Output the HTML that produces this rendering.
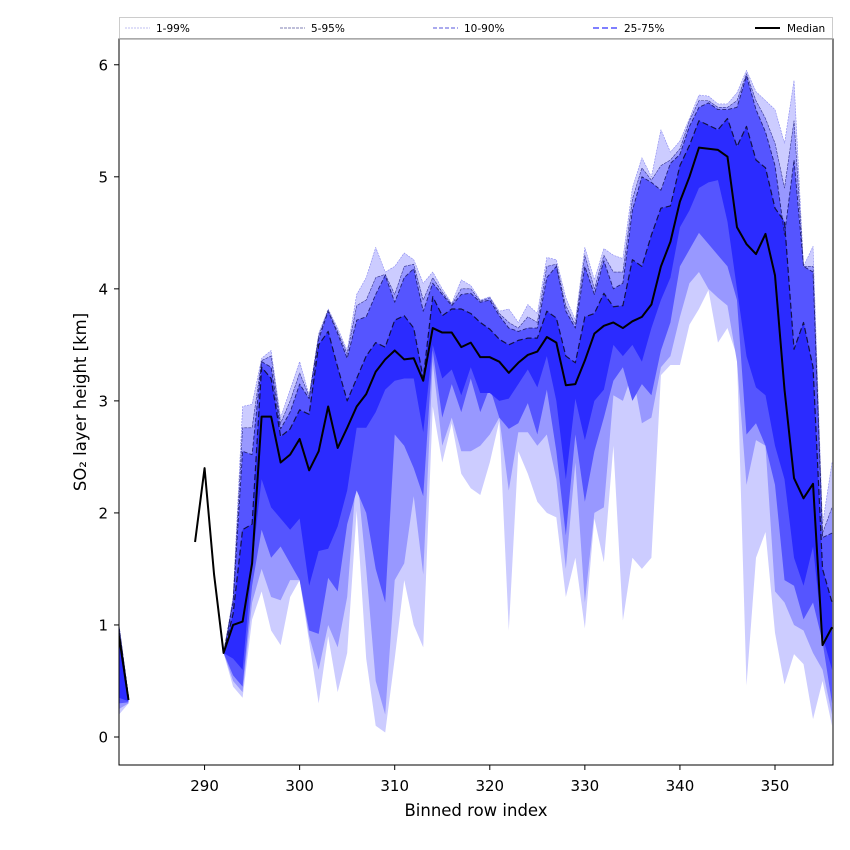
<!DOCTYPE html>
<html><head><meta charset="utf-8"><style>
body{margin:0;background:#fff;}
svg{display:block;font-family:"DejaVu Sans","Liberation Sans",sans-serif;}
</style></head><body>
<svg id="chart" width="850" height="850"></svg>
<script>
const rows=[281,282,283,284,285,286,287,288,289,290,291,292,293,294,295,296,297,298,299,300,301,302,303,304,305,306,307,308,309,310,311,312,313,314,315,316,317,318,319,320,321,322,323,324,325,326,327,328,329,330,331,332,333,334,335,336,337,338,339,340,341,342,343,344,345,346,347,348,349,350,351,352,353,354,355,356];
const N=null;
const median=[0.9,0.33,N,N,N,N,N,N,1.74,2.4,1.45,0.75,1.0,1.03,1.55,2.86,2.86,2.45,2.52,2.66,2.38,2.55,2.95,2.58,2.76,2.95,3.06,3.26,3.37,3.45,3.37,3.38,3.18,3.65,3.61,3.61,3.48,3.52,3.39,3.39,3.35,3.25,3.34,3.41,3.44,3.57,3.52,3.14,3.15,3.36,3.6,3.67,3.7,3.65,3.71,3.75,3.86,4.2,4.42,4.78,5.0,5.26,5.25,5.24,5.18,4.55,4.4,4.31,4.49,4.12,3.1,2.31,2.13,2.26,0.82,0.98];
const q75=[0.95,0.35,N,N,N,N,N,N,N,N,N,0.75,1.1,1.85,1.9,3.3,3.2,2.68,2.75,2.92,2.88,3.5,3.62,3.3,3.0,3.2,3.4,3.52,3.48,3.72,3.76,3.65,3.2,3.93,3.76,3.82,3.82,3.78,3.7,3.64,3.55,3.5,3.54,3.56,3.56,3.8,3.74,3.4,3.34,3.75,3.78,3.96,3.84,3.85,4.26,4.2,4.48,4.72,4.74,5.1,5.28,5.5,5.46,5.42,5.52,5.27,5.45,5.15,5.08,4.72,4.6,3.46,3.7,3.3,1.5,1.2];
const q90=[0.98,0.35,N,N,N,N,N,N,N,N,N,0.75,1.2,2.55,2.52,3.35,3.3,2.75,2.9,3.15,3.02,3.55,3.8,3.6,3.38,3.72,3.75,3.95,4.12,3.88,4.1,4.18,3.8,4.05,3.95,3.85,3.95,3.96,3.88,3.9,3.76,3.65,3.62,3.65,3.65,4.1,4.2,3.8,3.65,4.2,3.95,4.25,4.0,4.05,4.7,5.0,4.95,4.88,5.12,5.2,5.45,5.62,5.66,5.6,5.6,5.62,5.9,5.6,5.4,5.1,4.48,5.15,4.2,4.15,1.78,1.82];
const q95=[1.0,0.36,N,N,N,N,N,N,N,N,N,0.75,1.22,2.76,2.76,3.36,3.4,2.8,3.0,3.25,3.04,3.58,3.81,3.62,3.42,3.85,3.9,4.1,4.13,3.95,4.2,4.22,3.9,4.1,3.97,3.86,4.0,4.0,3.89,3.92,3.78,3.7,3.65,3.75,3.7,4.2,4.22,3.85,3.68,4.3,4.0,4.3,4.15,4.15,4.8,5.08,4.97,5.1,5.15,5.25,5.5,5.68,5.68,5.62,5.62,5.68,5.92,5.68,5.52,5.3,4.9,5.5,4.2,4.2,1.82,2.05];
const q99=[1.0,0.36,N,N,N,N,N,N,N,N,N,0.75,1.25,2.95,2.97,3.38,3.45,2.85,3.1,3.35,3.05,3.6,3.82,3.65,3.45,3.95,4.1,4.37,4.15,4.2,4.32,4.26,4.05,4.15,4.0,3.87,4.08,4.03,3.9,3.93,3.8,3.82,3.7,3.86,3.78,4.28,4.26,3.92,3.72,4.37,4.08,4.36,4.3,4.27,4.9,5.17,5.0,5.42,5.22,5.32,5.52,5.73,5.72,5.65,5.65,5.75,5.95,5.76,5.68,5.6,5.3,5.86,4.2,4.38,1.9,2.45];
const q25=[0.35,0.32,N,N,N,N,N,N,N,N,N,0.75,0.7,0.6,1.55,2.3,2.05,1.95,1.85,1.95,1.35,1.66,1.68,1.88,2.2,2.76,2.76,2.9,3.1,3.18,3.2,3.2,2.72,3.5,3.2,3.28,3.05,3.3,3.07,3.07,3.0,3.02,3.15,3.28,3.12,3.4,3.0,2.3,3.02,2.65,3.0,3.1,3.5,3.4,3.5,3.35,3.65,3.9,4.1,4.55,4.7,4.9,4.95,4.97,4.6,4.0,3.4,3.12,3.05,2.6,2.3,1.6,1.35,1.7,0.9,0.6];
const q10=[0.3,0.31,N,N,N,N,N,N,N,N,N,0.75,0.55,0.45,1.35,1.85,1.6,1.7,1.55,1.4,0.95,0.92,1.42,1.3,1.9,2.2,2.0,1.5,1.2,2.7,2.6,2.4,2.15,3.45,2.85,3.15,2.9,3.2,2.9,3.12,2.85,2.75,2.8,2.98,2.7,3.1,2.55,1.8,2.7,2.1,2.55,2.85,3.18,3.3,3.0,3.15,3.05,3.45,3.7,4.2,4.35,4.5,4.4,4.3,4.2,3.9,2.7,2.8,2.6,2.25,1.4,1.35,1.05,1.2,0.85,0.3];
const q5=[0.25,0.3,N,N,N,N,N,N,N,N,N,0.75,0.5,0.4,1.2,1.5,1.25,1.22,1.4,1.4,0.9,0.6,1.0,0.8,1.25,2.38,1.5,0.5,0.2,1.4,1.55,2.15,1.45,3.35,2.6,2.85,2.55,2.55,2.6,2.7,2.85,2.2,2.72,2.72,2.6,2.7,2.3,1.5,2.45,1.2,2.0,2.05,3.05,3.0,3.25,2.8,2.85,3.3,3.4,3.75,4.05,4.15,4.0,3.92,3.85,3.35,2.25,2.65,2.6,1.3,1.2,1.0,0.95,0.75,0.6,0.2];
const q1=[0.2,0.3,N,N,N,N,N,N,N,N,N,0.75,0.45,0.35,1.05,1.3,0.95,0.82,1.25,1.4,0.85,0.3,0.9,0.4,0.75,2.02,0.7,0.1,0.04,0.7,1.4,1.0,0.8,2.95,2.45,2.8,2.35,2.22,2.16,2.45,2.82,0.95,2.55,2.35,2.1,2.0,1.96,1.25,1.6,0.97,1.95,1.56,2.6,1.04,1.6,1.5,1.6,3.23,3.32,3.32,3.68,3.82,3.99,3.52,3.65,3.4,0.46,1.6,1.83,0.93,0.47,0.74,0.65,0.16,0.5,0.1];
const xTicks=[290,300,310,320,330,340,350];
const yTicks=[0,1,2,3,4,5,6];

const L=119,R=833,T=39,B=765,xMin=281,xMax=356.1,yMin=-0.25,yMax=6.23;
const X=v=>L+(v-xMin)/(xMax-xMin)*(R-L);
const Y=v=>B-(v-yMin)/(yMax-yMin)*(B-T);
const svg=document.getElementById('chart');
const NS='http://www.w3.org/2000/svg';
function mk(tag,attrs,parent){const e=document.createElementNS(NS,tag);for(const k in attrs)e.setAttribute(k,attrs[k]);(parent||svg).appendChild(e);return e;}
const defs=mk('defs',{});const cp=mk('clipPath',{id:'clip'},defs);mk('rect',{x:L,y:T,width:R-L,height:B-T},cp);
const plot=mk('g',{'clip-path':'url(#clip)'});


function segments(a){const s=[];let cur=[];a.forEach((v,i)=>{if(v===null){if(cur.length)s.push(cur);cur=[];}else cur.push(i);});if(cur.length)s.push(cur);return s;}
function band(lo,hi,fill,name){segments(hi).forEach(seg=>{let d='M'+seg.map(i=>X(rows[i])+','+Y(hi[i])).join('L');d+='L'+seg.slice().reverse().map(i=>X(rows[i])+','+Y(lo[i])).join('L')+'Z';const p=mk('path',{d:d,fill:fill,stroke:'none'},plot);});}
function line(a,stroke,w,dash,name){segments(a).forEach(seg=>{const d='M'+seg.map(i=>X(rows[i])+','+Y(a[i])).join('L');const p=mk('path',{d:d,fill:'none',stroke:stroke,'stroke-width':w,'stroke-dasharray':dash,'stroke-linejoin':'round'},plot);});}
band(q1,q99,'#ccccff','band-1-99');
band(q5,q95,'#9898ff','band-5-95');
band(q10,q90,'#5555ff','band-10-90');
band(q25,q75,'#2b2bff','band-25-75');
line(q99,'#8888ee',0.6,'2,1','line-p99');
line(q95,'#33338a',0.6,'3,1','line-p95');
line(q90,'#222277',0.9,'4,2','line-p90');
line(q75,'#111144',1.2,'6,3','line-p75');
line(median,'#000',2,'','median-line');
const ax=mk('rect',{x:L,y:T,width:R-L,height:B-T,fill:'none',stroke:'#000','stroke-width':1});

xTicks.forEach(t=>{const x=X(t);mk('line',{x1:x,y1:B,x2:x,y2:B+5,stroke:'#000'});const tx=mk('text',{x:x,y:B+26,'text-anchor':'middle','font-size':15});tx.textContent=t;});
yTicks.forEach(t=>{const y=Y(t);mk('line',{x1:L-5,y1:y,x2:L,y2:y,stroke:'#000'});const tx=mk('text',{x:L-11,y:y+5.5,'text-anchor':'end','font-size':15});tx.textContent=t;});
</script>
<svg width="850" height="850" style="position:absolute;left:0;top:0">
<text x="476" y="816" text-anchor="middle" font-size="16.5">Binned row index</text>
<text transform="translate(86,402) rotate(-90)" text-anchor="middle" font-size="16.5">SO₂ layer height [km]</text>
<g font-size="10.5">
<rect x="119.5" y="17.5" width="713" height="21" fill="#fff" stroke="#ccc"/>
<line x1="119" y1="39" x2="833" y2="39" stroke="#888"/>
<g><line x1="125" y1="28" x2="150" y2="28" stroke="#aaaaee" stroke-width="0.7" stroke-dasharray="2,1"/><text x="156" y="32">1-99%</text></g>
<g><line x1="280" y1="28" x2="305" y2="28" stroke="#55559a" stroke-width="0.7" stroke-dasharray="3,1"/><text x="311" y="32">5-95%</text></g>
<g><line x1="433" y1="28" x2="458" y2="28" stroke="#5555dd" stroke-width="1" stroke-dasharray="4,2"/><text x="464" y="32">10-90%</text></g>
<g><line x1="593" y1="28" x2="618" y2="28" stroke="#3333ff" stroke-width="1.2" stroke-dasharray="6,3"/><text x="624" y="32">25-75%</text></g>
<g><line x1="755" y1="28" x2="780" y2="28" stroke="#000" stroke-width="2"/><text x="787" y="32">Median</text></g>
</g>
</svg>
</body></html>
